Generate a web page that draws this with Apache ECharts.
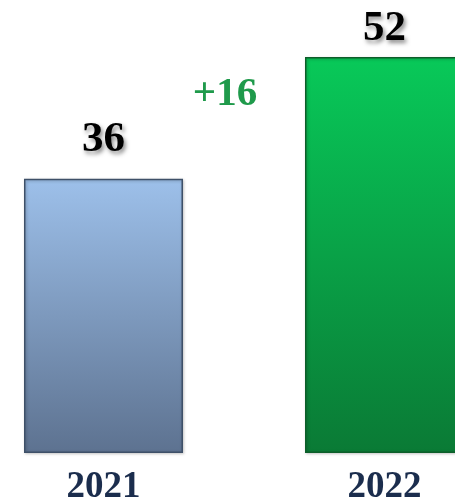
<!DOCTYPE html>
<html><head><meta charset="utf-8">
<script src="https://cdn.jsdelivr.net/npm/echarts@6/dist/echarts.min.js"></script>
<style>html,body{margin:0;padding:0;background:#fff}#c{width:455px;height:501px}</style>
</head><body><div id="c"></div>
<script>
var categories = ['2021', '2022'];
var values = [36, 52];
var labelDistances = [17, 7];

var chart = echarts.init(document.getElementById('c'));
var fills = [
  new echarts.graphic.LinearGradient(0,0,0,1,[{offset:0,color:'#9dc0ea'},{offset:1,color:'#5d7290'}]),
  new echarts.graphic.LinearGradient(0,0,0,1,[{offset:0,color:'#08c959'},{offset:1,color:'#0a7a35'}])
];
var borders = ['#3e5068', '#0d5e2a'];
var diff = values[1] - values[0];
chart.setOption({
  animation: false,
  grid: {left: 0, right: 0, top: 11.3, bottom: 48, containLabel: false, outerBoundsMode: 'none'},
  xAxis: {
    type: 'value', min: -0.3683, max: 1.2509,
    splitLine: {show: false}, axisLine: {show: false}, axisTick: {show: false},
    axisLabel: {customValues: [0, 1], formatter: function(v){ return categories[Math.round(v)]; },
      fontFamily: 'Liberation Serif', fontWeight: 'bold', fontSize: 37, color: '#1b2d4d', margin: 16, lineHeight: 37}
  },
  yAxis: {type: 'value', min: 0, max: 58, show: false, splitLine: {show: false}},
  series: [{
    type: 'bar', barWidth: 159,
    data: values.map(function(v, i){
      return {value: [i, v],
        itemStyle: {color: fills[i], borderColor: borders[i], borderWidth: 1.5,
          shadowColor: 'rgba(0,0,0,0.25)', shadowBlur: 3, shadowOffsetX: 1, shadowOffsetY: 1},
        label: {distance: labelDistances[i]}};
    }),
    label: {show: true, position: 'top', formatter: function(p){ return p.value[1]; },
      fontFamily: 'Liberation Serif', fontWeight: 'bold', fontSize: 43, color: '#000',
      textShadowColor: 'rgba(0,0,0,0.45)', textShadowBlur: 4, textShadowOffsetX: 2, textShadowOffsetY: 3}
  }],
  graphic: [{
    type: 'text', x: 225, y: 94,
    style: {text: '+' + diff, font: 'bold 41px "Liberation Serif"', fill: '#1f9a4b', textAlign: 'center', textVerticalAlign: 'middle',
      shadowColor: 'rgba(0,0,0,0.35)', shadowBlur: 4, shadowOffsetX: 2, shadowOffsetY: 3}
  }]
});
</script></body></html>
